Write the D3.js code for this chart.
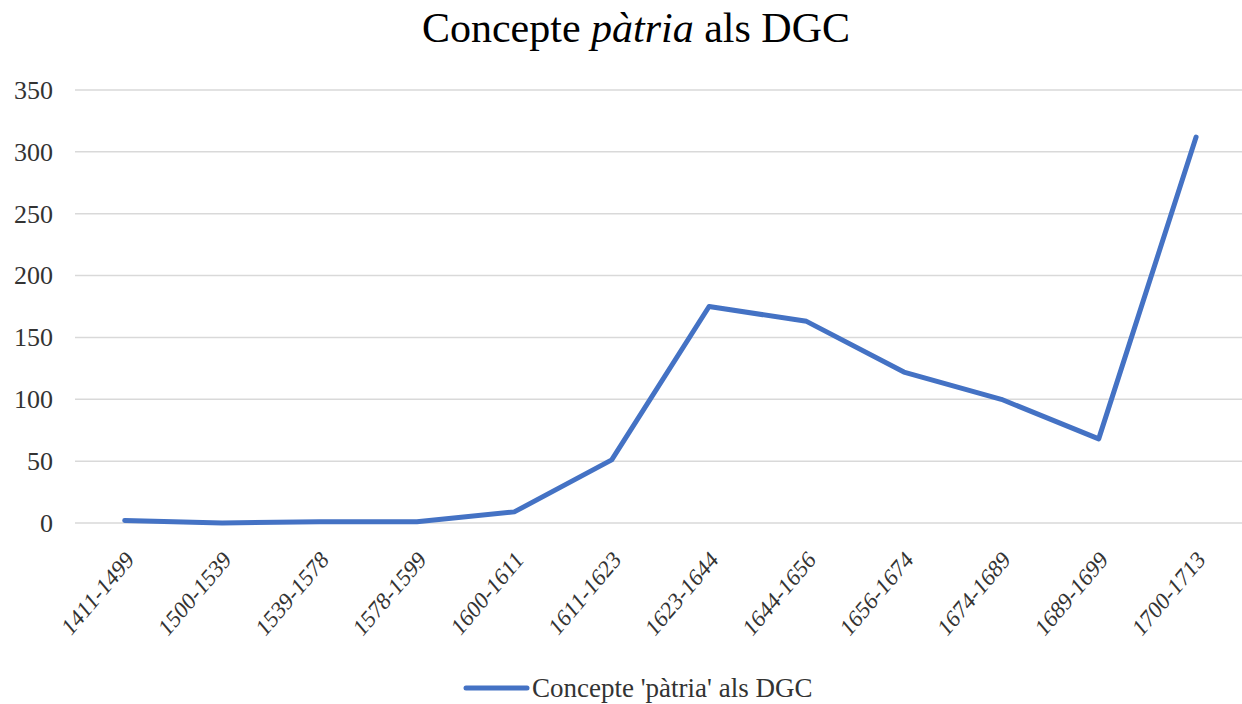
<!DOCTYPE html>
<html>
<head>
<meta charset="utf-8">
<script src="https://cdn.jsdelivr.net/npm/d3@7"></script>
<style>
  html, body { margin: 0; padding: 0; background: #fff; }
  svg { display: block; font-family: "Liberation Serif", "Times New Roman", serif; }
</style>
</head>
<body>
<div id="chart"></div>
<script>
'use strict';

var periods = ["1411-1499","1500-1539","1539-1578","1578-1599","1600-1611","1611-1623",
  "1623-1644","1644-1656","1656-1674","1674-1689","1689-1699","1700-1713"];
var values = [2, 0, 1, 1, 9, 51, 175, 163, 122, 100, 68, 312];
var yTicks = [0, 50, 100, 150, 200, 250, 300, 350];
var seriesName = "Concepte 'pàtria' als DGC";

var width = 1242, height = 704;
var blue = "#4472C4";

var svg = d3.select("#chart").append("svg")
  .attr("width", width).attr("height", height);

var x = d3.scaleBand().domain(periods).range([76, 1244.8]);
var y = d3.scaleLinear().domain([0, 350]).range([523, 90]);

function cx(d){ return x(d) + x.bandwidth() / 2; }

//title, with the italic word
var title = svg.append("text")
  .attr("x", 636).attr("y", 42)
  .attr("text-anchor", "middle")
  .attr("font-size", 42).attr("fill", "#000");
title.append("tspan").text("Concepte ");
title.append("tspan").attr("font-style", "italic").text("pàtria");
title.append("tspan").text(" als DGC");

//gridlines
svg.append("g").attr("class", "grid")
  .selectAll("line").data(yTicks).enter().append("line")
  .attr("x1", 75).attr("x2", width)
  .attr("y1", function(d){ return y(d); })
  .attr("y2", function(d){ return y(d); })
  .attr("stroke", "#d9d9d9").attr("stroke-width", 1.5);

//y axis labels
var yAxis = svg.append("g")
  .attr("transform", "translate(53,0)")
  .call(d3.axisLeft(y).tickValues(yTicks).tickSize(0).tickPadding(0));
yAxis.select(".domain").remove();
yAxis.selectAll("text")
  .attr("font-family", "Liberation Serif, serif")
  .attr("font-size", 26).attr("fill", "#333");

//x axis labels, rotated, slightly narrowed like the source
var xAxis = svg.append("g")
  .attr("transform", "translate(0," + y(0) + ")")
  .call(d3.axisBottom(x).tickSize(0).tickPadding(0));
xAxis.select(".domain").remove();
xAxis.selectAll("text")
  .attr("font-family", "Liberation Serif, serif")
  .attr("font-size", 25).attr("fill", "#333")
  .attr("text-anchor", "end")
  .attr("y", 0)
  .attr("dy", "0.35em")
  .attr("transform", "translate(5,32) scale(0.85,1) rotate(-45)");

//the series
var line = d3.line()
  .x(function(d, i){ return cx(periods[i]); })
  .y(function(d){ return y(d); });

svg.append("path")
  .datum(values)
  .attr("d", line)
  .attr("fill", "none")
  .attr("stroke", blue)
  .attr("stroke-width", 5)
  .attr("stroke-linejoin", "round")
  .attr("stroke-linecap", "round");

//legend
var legend = svg.append("g").attr("class", "legend");
legend.append("line")
  .attr("x1", 466).attr("x2", 527)
  .attr("y1", 688).attr("y2", 688)
  .attr("stroke", blue).attr("stroke-width", 5)
  .attr("stroke-linecap", "round");
legend.append("text")
  .attr("x", 532).attr("y", 697)
  .attr("font-size", 27).attr("fill", "#333")
  .text(seriesName);
</script>
</body>
</html>
